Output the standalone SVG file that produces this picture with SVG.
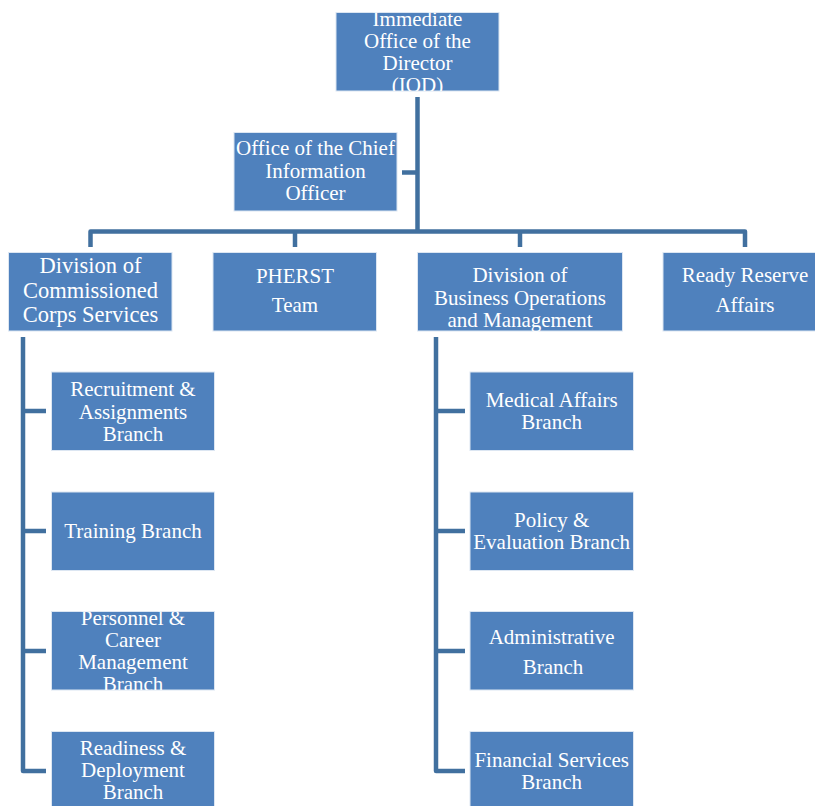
<svg xmlns="http://www.w3.org/2000/svg" width="815" height="806" viewBox="0 0 815 806">
<style>
.box{fill:#4F81BD;stroke:#DCE6F2;stroke-width:1}
.t{font-family:'Liberation Serif','DejaVu Serif',serif;font-size:21px;fill:#FFFFFF;text-anchor:middle}
.big{font-size:22.5px}
.con{fill:none;stroke:#41709F;stroke-width:4.5;stroke-linejoin:round}
</style>
<defs>
<clipPath id="cTop"><rect x="336" y="12.5" width="163" height="78.5"/></clipPath>
<clipPath id="cPers"><rect x="51.5" y="611.5" width="163" height="78.5"/></clipPath>
</defs>
<rect width="815" height="806" fill="#FFFFFF"/>
<g id="connectors">
<path class="con" d="M417.5 97 V231.5"/>
<path class="con" d="M402 172.5 H417.5"/>
<path class="con" d="M90.5 247 V231.5 H745 V247"/>
<path class="con" d="M295 231.5 V247"/>
<path class="con" d="M520 231.5 V247"/>
<path class="con" d="M23 337 V771 H46"/>
<path class="con" d="M23 411 H46 M23 531 H46 M23 651 H46"/>
<path class="con" d="M436 337 V771 H465"/>
<path class="con" d="M436 411 H465 M436 531 H465 M436 651 H465"/>
</g>
<g font-family="Liberation Serif, DejaVu Serif, serif">
<g id="iod">
<rect class="box" x="336" y="12.5" width="163" height="78.5"/>
<g clip-path="url(#cTop)">
<text class="t" x="417.5" y="26">Immediate</text>
<text class="t" x="417.5" y="48">Office of the</text>
<text class="t" x="417.5" y="70">Director</text>
<text class="t" x="417.5" y="92">(IOD)</text>
</g>
</g>
<g id="cio">
<rect class="box" x="234" y="132.5" width="163" height="78.5"/>
<text class="t" x="315.5" y="155">Office of the Chief</text>
<text class="t" x="315.5" y="177.5">Information</text>
<text class="t" x="315.5" y="200">Officer</text>
</g>
<g id="dccs">
<rect class="box" x="8.5" y="252.5" width="163.5" height="78.5"/>
<text class="t big" x="90.5" y="273">Division of</text>
<text class="t big" x="90.5" y="297.5">Commissioned</text>
<text class="t big" x="90.5" y="322">Corps Services</text>
</g>
<g id="pherst">
<rect class="box" x="213" y="252.5" width="163.5" height="78.5"/>
<text class="t" x="295" y="282.5">PHERST</text>
<text class="t" x="295" y="312">Team</text>
</g>
<g id="dbom">
<rect class="box" x="417.5" y="252.5" width="205" height="78.5"/>
<text class="t" x="520" y="282">Division of</text>
<text class="t" x="520" y="305">Business Operations</text>
<text class="t" x="520" y="327">and Management</text>
</g>
<g id="rra">
<rect class="box" x="663" y="252.5" width="163.5" height="78.5"/>
<text class="t" x="745" y="282">Ready Reserve</text>
<text class="t" x="745" y="312">Affairs</text>
</g>
<g id="recruit">
<rect class="box" x="51.5" y="372" width="163" height="78.5"/>
<text class="t" x="133" y="396">Recruitment &amp;</text>
<text class="t" x="133" y="418.5">Assignments</text>
<text class="t" x="133" y="440.5">Branch</text>
</g>
<g id="training">
<rect class="box" x="51.5" y="492" width="163" height="78.5"/>
<text class="t" x="133" y="538">Training Branch</text>
</g>
<g id="personnel">
<rect class="box" x="51.5" y="611.5" width="163" height="78.5"/>
<g clip-path="url(#cPers)">
<text class="t" x="133" y="624.5">Personnel &amp;</text>
<text class="t" x="133" y="646.5">Career</text>
<text class="t" x="133" y="668.5">Management</text>
<text class="t" x="133" y="690.5">Branch</text>
</g>
</g>
<g id="readiness">
<rect class="box" x="51.5" y="731.5" width="163" height="78.5"/>
<text class="t" x="133" y="755">Readiness &amp;</text>
<text class="t" x="133" y="777">Deployment</text>
<text class="t" x="133" y="799">Branch</text>
</g>
<g id="medical">
<rect class="box" x="470" y="372" width="163.5" height="78.5"/>
<text class="t" x="551.7" y="407">Medical Affairs</text>
<text class="t" x="551.7" y="429">Branch</text>
</g>
<g id="policy">
<rect class="box" x="470" y="492" width="163.5" height="78.5"/>
<text class="t" x="551.7" y="527">Policy &amp;</text>
<text class="t" x="551.7" y="549">Evaluation Branch</text>
</g>
<g id="admin">
<rect class="box" x="470" y="611.5" width="163.5" height="78.5"/>
<text class="t" x="551.7" y="643.5">Administrative</text>
<text class="t" x="553" y="673.5">Branch</text>
</g>
<g id="financial">
<rect class="box" x="470" y="731.5" width="163.5" height="78.5"/>
<text class="t" x="551.7" y="766.5">Financial Services</text>
<text class="t" x="551.7" y="788.5">Branch</text>
</g>
</g>
</svg>
